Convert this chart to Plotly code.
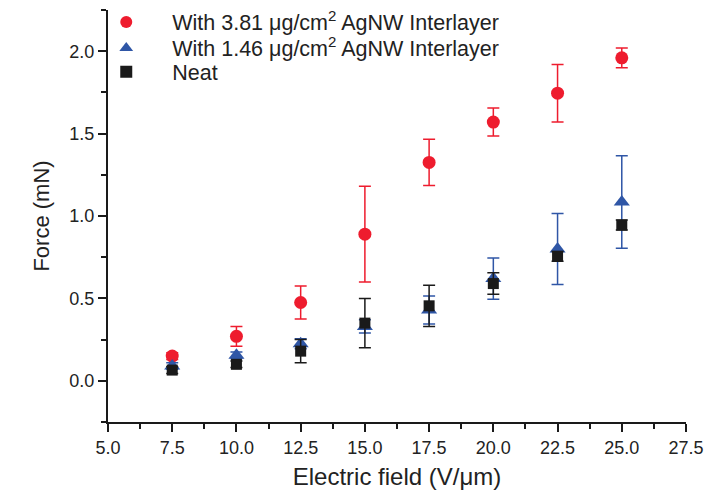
import plotly.graph_objects as go

field = [7.5, 10.0, 12.5, 15.0, 17.5, 20.0, 22.5, 25.0]

f_381 = [0.15, 0.27, 0.475, 0.89, 1.325, 1.57, 1.745, 1.96]
e_381 = [0.02, 0.06, 0.10, 0.29, 0.14, 0.085, 0.175, 0.06]

f_146 = [0.09, 0.155, 0.225, 0.33, 0.43, 0.62, 0.80, 1.085]
e_146 = [0.02, 0.02, 0.03, 0.04, 0.085, 0.125, 0.215, 0.28]

f_neat = [0.065, 0.10, 0.18, 0.35, 0.455, 0.59, 0.755, 0.945]
e_neat = [0.02, 0.02, 0.07, 0.15, 0.125, 0.065, 0.03, 0.03]

names = ["With 3.81 \u03bcg/cm<sup>2</sup> AgNW Interlayer",
         "With 1.46 \u03bcg/cm<sup>2</sup> AgNW Interlayer",
         "Neat"]

x_ticks = [5.0, 7.5, 10.0, 12.5, 15.0, 17.5, 20.0, 22.5, 25.0, 27.5]
y_ticks = [0.0, 0.5, 1.0, 1.5, 2.0]

fig = go.Figure()
fig.add_trace(go.Scatter(
    x=field, y=f_381, mode="markers", name=names[0], legend="legend",
    marker=dict(symbol="circle", size=13, color="#ee1c2e"),
    error_y=dict(type="data", array=e_381, color="#ee1c2e", thickness=1.5, width=6)))
fig.add_trace(go.Scatter(
    x=field, y=f_146, mode="markers", name=names[1], legend="legend2",
    marker=dict(symbol="triangle-up", size=14, color="#2f56a6"),
    error_y=dict(type="data", array=e_146, color="#2f56a6", thickness=1.5, width=6)))
fig.add_trace(go.Scatter(
    x=field, y=f_neat, mode="markers", name=names[2], legend="legend3",
    marker=dict(symbol="square", size=11, color="#1a1a1a"),
    error_y=dict(type="data", array=e_neat, color="#1a1a1a", thickness=1.5, width=6)))

font_family = "Liberation Sans, Arial, sans-serif"
leg_common = dict(x=-0.048, xanchor="left", yanchor="middle",
                  font=dict(size=21.5, family=font_family, color="#222"),
                  bgcolor="rgba(0,0,0,0)", itemsizing="constant", itemwidth=82)

fig.update_layout(
    width=705, height=490,
    margin=dict(l=108, r=19, t=10, b=68, autoexpand=False),
    paper_bgcolor="white", plot_bgcolor="white",
    font=dict(family=font_family, color="#222"),
    showlegend=True,
    legend=dict(y=0.971, **leg_common),
    legend2=dict(y=0.908, **leg_common),
    legend3=dict(y=0.850, **leg_common),
    xaxis=dict(range=[5.0, 27.5], tickvals=x_ticks, automargin=False,
               ticktext=[f"{v:.1f}" for v in x_ticks],
               showgrid=False, zeroline=False, showline=True, linecolor="#1a1a1a", linewidth=2,
               ticks="outside", ticklen=8, tickwidth=2, tickcolor="#1a1a1a",
               tickfont=dict(size=18, family=font_family, color="#222"),
               minor=dict(dtick=1.25, ticks="outside", ticklen=5, tickwidth=2, tickcolor="#1a1a1a", showgrid=False),
               title=dict(text="Electric field (V/\u03bcm)", font=dict(size=24, family=font_family, color="#222"), standoff=16)),
    yaxis=dict(range=[-0.25, 2.25], tickvals=y_ticks, automargin=False,
               ticktext=[f"{v:.1f}" for v in y_ticks],
               showgrid=False, zeroline=False, showline=True, linecolor="#1a1a1a", linewidth=2,
               ticks="outside", ticklen=8, tickwidth=2, tickcolor="#1a1a1a",
               tickfont=dict(size=18, family=font_family, color="#222"),
               minor=dict(tickvals=[-0.25, 0.25, 0.75, 1.25, 1.75, 2.25], ticks="outside", ticklen=5, tickwidth=2, tickcolor="#1a1a1a", showgrid=False),
               title=dict(text="Force (mN)", font=dict(size=22, family=font_family, color="#222"), standoff=14)),
)

fig.write_html("out.html", config={"displayModeBar": False},
               post_script="document.body.style.margin='0';document.body.style.overflow='hidden';")
